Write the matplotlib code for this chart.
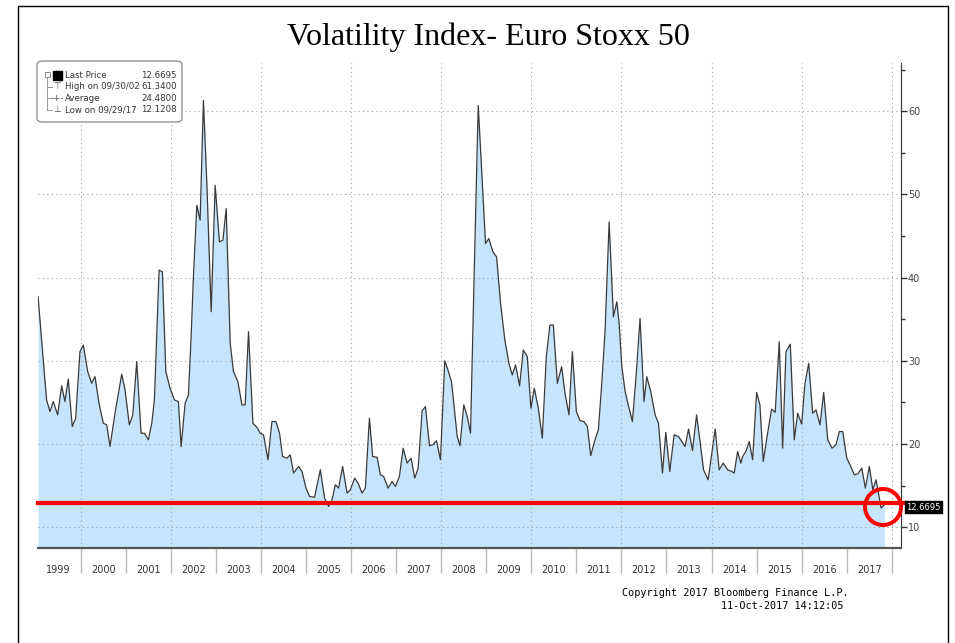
import matplotlib.pyplot as plt
from matplotlib.patches import FancyBboxPatch, Ellipse, Rectangle
from matplotlib.lines import Line2D
from matplotlib.ticker import MultipleLocator

# decimal years and index level
dates = [
    1999.055, 1999.169, 1999.244, 1999.318, 1999.391, 1999.489, 1999.578, 1999.651, 1999.724, 1999.813, 1999.889, 1999.984,
    2000.058, 2000.156, 2000.244, 2000.318, 2000.407, 2000.502, 2000.578, 2000.651, 2000.762, 2000.911, 2000.984,
    2001.080, 2001.156, 2001.244, 2001.340, 2001.413, 2001.502, 2001.578, 2001.636, 2001.740, 2001.813, 2001.889, 2001.984,
    2002.080, 2002.169, 2002.229, 2002.318, 2002.391, 2002.451, 2002.502, 2002.578, 2002.651, 2002.724, 2002.800, 2002.896, 2002.984,
    2003.080, 2003.156, 2003.229, 2003.318, 2003.391, 2003.489, 2003.578, 2003.651, 2003.724, 2003.822, 2003.911, 2003.984,
    2004.058, 2004.156, 2004.244, 2004.333, 2004.413, 2004.480, 2004.578, 2004.651, 2004.724, 2004.836, 2004.911, 2005.000,
    2005.080, 2005.191, 2005.318, 2005.413, 2005.502, 2005.578, 2005.651, 2005.724, 2005.813, 2005.911, 2005.984,
    2006.080, 2006.156, 2006.244, 2006.318, 2006.407, 2006.480, 2006.578, 2006.651, 2006.724, 2006.822, 2006.911, 2006.984,
    2007.073, 2007.156, 2007.244, 2007.333, 2007.413, 2007.489, 2007.578, 2007.651, 2007.740, 2007.813, 2007.896, 2007.984,
    2008.080, 2008.150, 2008.229, 2008.356, 2008.418, 2008.502, 2008.578, 2008.651, 2008.724, 2008.822, 2008.911, 2008.984,
    2009.058, 2009.147, 2009.229, 2009.318, 2009.413, 2009.502, 2009.578, 2009.651, 2009.740, 2009.822, 2009.911, 2009.991,
    2010.067, 2010.156, 2010.244, 2010.333, 2010.413, 2010.489, 2010.578, 2010.673, 2010.747, 2010.836, 2010.911,
    2011.000, 2011.080, 2011.169, 2011.244, 2011.318, 2011.413, 2011.489, 2011.564, 2011.638, 2011.727, 2011.822, 2011.898, 2011.949,
    2012.009, 2012.082, 2012.169, 2012.244, 2012.333, 2012.413, 2012.502, 2012.562, 2012.651, 2012.747, 2012.822, 2012.911, 2012.984,
    2013.073, 2013.169, 2013.267, 2013.413, 2013.489, 2013.578, 2013.667, 2013.740, 2013.822, 2013.924,
    2014.007, 2014.080, 2014.169, 2014.258, 2014.356, 2014.451, 2014.502, 2014.578, 2014.651, 2014.689, 2014.762, 2014.836, 2014.911,
    2015.000, 2015.073, 2015.147, 2015.244, 2015.333, 2015.413, 2015.502, 2015.578, 2015.651, 2015.747, 2015.836, 2015.911,
    2016.000, 2016.073, 2016.156, 2016.244, 2016.318, 2016.407, 2016.489, 2016.578, 2016.673, 2016.762, 2016.836, 2016.911,
    2017.000, 2017.073, 2017.169, 2017.244, 2017.333, 2017.413, 2017.502, 2017.578, 2017.651, 2017.762, 2017.836,
]
vix = [
    37.7, 30.1, 25.3, 23.9, 25.1, 23.5, 27.0, 25.1, 27.8, 22.1, 23.1, 31.1,
    31.9, 28.7, 27.3, 28.1, 24.9, 22.5, 22.3, 19.7, 23.7, 28.4, 26.5,
    22.3, 23.5, 29.9, 21.3, 21.3, 20.5, 22.5, 25.3, 40.9, 40.7, 28.7, 26.7,
    25.3, 25.1, 19.7, 24.9, 25.9, 32.9, 40.1, 48.7, 46.9, 61.3, 51.3, 35.9, 51.1,
    44.3, 44.5, 48.3, 32.1, 28.7, 27.5, 24.7, 24.7, 33.5, 22.5, 22.0, 21.3,
    21.1, 18.1, 22.7, 22.7, 21.3, 18.5, 18.3, 18.7, 16.5, 17.3, 16.7, 14.7,
    13.7, 13.6, 16.9, 13.5, 12.5, 13.3, 15.1, 14.7, 17.3, 14.1, 14.5,
    15.9, 15.3, 14.1, 14.7, 23.1, 18.5, 18.4, 16.3, 16.1, 14.7, 15.5, 14.9,
    16.1, 19.5, 17.7, 18.3, 15.9, 17.1, 24.0, 24.5, 19.8, 19.9, 20.4, 18.1,
    30.0, 28.9, 27.5, 20.9, 19.8, 24.7, 23.3, 21.3, 38.5, 60.7, 51.7, 44.1,
    44.7, 43.1, 42.5, 36.9, 32.5, 29.7, 28.3, 29.5, 27.0, 31.3, 30.5, 24.3,
    26.7, 24.3, 20.7, 30.5, 34.3, 34.3, 27.3, 29.3, 26.1, 23.5, 31.1,
    23.9, 22.8, 22.7, 22.1, 18.6, 20.5, 21.7, 27.3, 33.7, 46.7, 35.3, 37.1, 34.5,
    29.3, 26.3, 24.3, 22.7, 28.7, 35.1, 25.1, 28.1, 26.3, 23.5, 22.5, 16.5, 21.4,
    16.7, 21.1, 20.9, 19.7, 21.8, 19.2, 23.5, 20.5, 16.9, 15.7,
    18.9, 21.8, 16.9, 17.7, 16.9, 16.7, 16.5, 19.1, 17.7, 18.5, 19.1, 20.3, 18.1,
    26.2, 24.7, 17.9, 21.3, 24.2, 23.8, 32.3, 19.5, 31.1, 32.0, 20.5, 23.7,
    22.4, 27.3, 29.7, 23.7, 24.1, 22.3, 26.2, 20.5, 19.5, 19.9, 21.5, 21.5,
    18.3, 17.5, 16.3, 16.4, 17.1, 14.7, 17.3, 14.5, 15.7, 12.3, 12.7,
]

years = list(range(1999, 2018))
y_ticks = [10, 20, 30, 40, 50, 60]
last_price = 12.6695
support_level = 12.9
legend_rows = [
    ("Last Price", "12.6695"),
    ("High on 09/30/02", "61.3400"),
    ("Average", "24.4800"),
    ("Low on 09/29/17", "12.1208"),
]

W, H = 955, 643
fig = plt.figure(figsize=(W / 100, H / 100), dpi=100)


def fx(px):
    return px / W


def fy(py):
    return 1 - py / H


ax = fig.add_axes([fx(38), fy(548), fx(901) - fx(38), fy(63) - fy(548)])
ax.fill_between(dates, vix, 0, color="#c6e4fb", lw=0, zorder=1)
ax.plot(dates, vix, color="#3a3a3a", lw=0.9, zorder=3)
ax.set_xlim(1999.053, 2018.204)
ax.set_ylim(7.5, 65.8)

# dotted grid over the fill
for v in y_ticks:
    ax.axhline(v, color="#a0a0a0", lw=0.8, ls=(0, (1, 3)), zorder=2)
for yr in range(2000, 2019, 2):
    ax.axvline(yr, color="#a0a0a0", lw=0.8, ls=(0, (1, 3)), zorder=2)

for s in ["top", "left"]:
    ax.spines[s].set_visible(False)
ax.spines["right"].set_color("#333333")
ax.spines["bottom"].set_color("#555555")
ax.spines["bottom"].set_linewidth(1.6)

ax.yaxis.tick_right()
ax.set_yticks(y_ticks)
ax.yaxis.set_minor_locator(MultipleLocator(5))
ax.tick_params(axis="y", which="major", length=4, width=1, color="#333333",
               labelsize=7, labelcolor="#444444", pad=1)
ax.tick_params(axis="y", which="minor", length=3, width=1, color="#333333")

ax.set_xticks(range(2000, 2019))
ax.set_xticklabels([])
ax.set_xticks([y + 0.5 for y in years], minor=True)
ax.set_xticklabels([str(y) for y in years], minor=True)
ax.tick_params(axis="x", which="major", length=18, width=1, color="#b8b8b8")
ax.tick_params(axis="x", which="minor", length=0, labelsize=7, labelcolor="#333333", pad=12)

# red support line + last price tag
ax.axhline(support_level, xmin=0, xmax=1.005, color="red", lw=3, clip_on=False, zorder=5)
ax.annotate(f"{last_price:.4f}", xy=(1, last_price), xycoords=("axes fraction", "data"),
            xytext=(4, -1.5), textcoords="offset points", ha="left", va="center",
            color="white", fontsize=6,
            bbox=dict(boxstyle="square,pad=0.15", fc="black", ec="black"),
            annotation_clip=False, zorder=6)

circle = Ellipse((fx(883), fy(507)), fx(36), 36 / H, fill=False, ec="red", lw=2.9,
                 transform=fig.transFigure, zorder=10)
fig.add_artist(circle)

fig.text(fx(488), fy(37), "Volatility Index- Euro Stoxx 50", ha="center", va="center",
         fontsize=23, family="Liberation Serif")

# legend box
box = FancyBboxPatch((fx(37), fy(122)), fx(182) - fx(37), (122 - 61) / H,
                     boxstyle="round,pad=0,rounding_size=0.006", ec="#888888", fc="white",
                     lw=0.9, transform=fig.transFigure, zorder=10)
fig.add_artist(box)
row_y = [75, 86.7, 98.3, 110]
for (lab, val), ry in zip(legend_rows, row_y):
    fig.text(fx(65), fy(ry), lab, fontsize=6.2, color="#333333", ha="left", va="center", zorder=11)
    fig.text(fx(177), fy(ry), val, fontsize=6.2, color="#333333", ha="right", va="center", zorder=11)
fig.add_artist(Rectangle((fx(53), fy(80)), fx(9), 9 / H, fc="black", ec="black",
                         transform=fig.transFigure, zorder=11))
fig.add_artist(Rectangle((fx(44.5), fy(77)), fx(5), 5 / H, fc="white", ec="#777777", lw=0.6,
                         transform=fig.transFigure, zorder=11))
fig.add_artist(Line2D([fx(47), fx(47)], [fy(77), fy(110)], color="#888888", lw=0.6,
                      transform=fig.transFigure, zorder=11))
for ry in row_y[1:]:
    fig.add_artist(Line2D([fx(47), fx(52)], [fy(ry), fy(ry)], color="#888888", lw=0.6,
                          transform=fig.transFigure, zorder=11))
fig.text(fx(57), fy(86.7), "\u22a4", fontsize=6.5, color="#555555", ha="center", va="center", zorder=11)
fig.text(fx(57), fy(98.3), "-+-", fontsize=6.2, color="#555555", ha="center", va="center", zorder=11)
fig.text(fx(57), fy(110), "\u22a5", fontsize=6.5, color="#555555", ha="center", va="center", zorder=11)

fig.text(fx(622), fy(593), "Copyright 2017 Bloomberg Finance L.P.", family="DejaVu Sans Mono",
         fontsize=7.3, ha="left", va="center")
fig.text(fx(843), fy(606), "11-Oct-2017 14:12:05", family="DejaVu Sans Mono",
         fontsize=7.3, ha="right", va="center")

# page frame
fig.add_artist(Rectangle((fx(18), -0.01), fx(948) - fx(18), 1.0, fill=False, ec="black", lw=1,
                         transform=fig.transFigure))

fig.savefig("out.png", dpi=100)
